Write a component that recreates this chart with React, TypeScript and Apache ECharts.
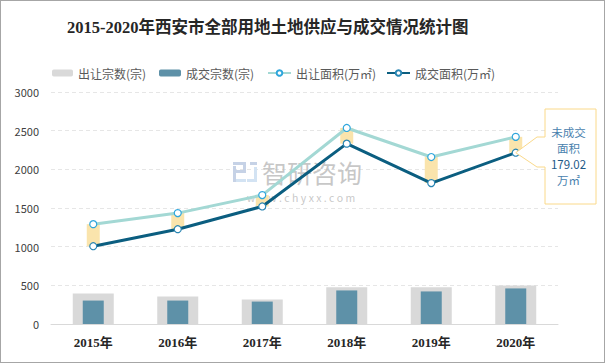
import React, { useEffect, useRef } from "react";
import * as echarts from "echarts";

const categories = ["2015年", "2016年", "2017年", "2018年", "2019年", "2020年"];
const supplyCount = [395, 355, 316, 474, 474, 497];
const dealCount = [303, 303, 290, 434, 421, 460];
const supplyArea = [1291, 1434, 1667, 2535, 2159, 2420];
const dealArea = [1006, 1226, 1520, 2332, 1822, 2215];
const yMin = 0;
const yMax = 3000;
const yInterval = 500;
const seriesNames = ["出让宗数(宗)", "成交宗数(宗)", "出让面积(万㎡)", "成交面积(万㎡)"];
const calloutLines = ["未成交", "面积", "179.02", "万㎡"];
const titleText = "2015-2020年西安市全部用地土地供应与成交情况统计图";

const SERIF = '"Liberation Serif", "DejaVu Serif", "Noto Sans CJK SC", serif';
const SANS = '"Noto Sans CJK SC", "Noto Sans", sans-serif';

export default function App() {
  const ref = useRef<HTMLDivElement>(null);
  useEffect(() => {
    if (!ref.current) return;
    const chart = echarts.init(ref.current, undefined, { renderer: "svg" });
    const gapBase = dealArea.slice();
    const gapDiff = supplyArea.map((v, i) => v - dealArea[i]);
    const hiddenX = () => ({
      type: "category",
      data: categories,
      show: false,
      gridIndex: 0,
    });
    const legendBase = {
      top: 62,
      itemHeight: 7,
      textStyle: { fontSize: 12, color: "#595959", fontFamily: SANS },
    };
    chart.setOption({
      animation: false,
      backgroundColor: "#fff",
      title: {
        text: titleText,
        left: 62,
        top: 14,
        textStyle: { fontSize: 16.5, fontWeight: "bold", color: "#262626", fontFamily: SERIF },
      },
      legend: [
        { ...legendBase, left: 47, itemWidth: 21, data: [seriesNames[0]] },
        { ...legendBase, left: 154, itemWidth: 22, data: [seriesNames[1]] },
        { ...legendBase, left: 262, itemWidth: 23, data: [seriesNames[2]] },
        { ...legendBase, left: 381, itemWidth: 23, data: [seriesNames[3]] },
      ],
      grid: { left: 51, right: 47, top: 92, bottom: 39, containLabel: false },
      xAxis: [
        {
          type: "category",
          data: categories,
          axisLine: { lineStyle: { color: "#D9D9D9", width: 1 } },
          axisTick: { show: false },
          axisLabel: { fontSize: 13, fontWeight: "bold", color: "#262626", fontFamily: SERIF, margin: 12 },
        },
        hiddenX(),
        hiddenX(),
      ],
      yAxis: {
        type: "value",
        min: yMin,
        max: yMax,
        interval: yInterval,
        axisLine: { show: false },
        axisTick: { show: false },
        axisLabel: {
          fontSize: 11,
          color: "#404040",
          fontFamily: SANS,
          margin: 12,
          formatter: (v: number) => String(v),
        },
        splitLine: { lineStyle: { color: "#E6E6E6", type: [4, 3] } },
      },
      series: [
        {
          name: seriesNames[0],
          type: "bar",
          xAxisIndex: 0,
          data: supplyCount,
          barWidth: 41,
          itemStyle: { color: "#D9D9D9" },
          z: 1,
        },
        {
          name: seriesNames[1],
          type: "bar",
          xAxisIndex: 1,
          data: dealCount,
          barWidth: 21,
          itemStyle: { color: "#5E91A8" },
          z: 2,
        },
        {
          type: "bar",
          xAxisIndex: 2,
          stack: "gap",
          data: gapBase,
          barWidth: 13,
          itemStyle: { color: "transparent" },
          silent: true,
          z: 3,
        },
        {
          type: "bar",
          xAxisIndex: 2,
          stack: "gap",
          data: gapDiff,
          barWidth: 13,
          itemStyle: { color: "#FAE4AC" },
          silent: true,
          z: 3,
        },
        {
          name: seriesNames[2],
          type: "line",
          xAxisIndex: 0,
          data: supplyArea,
          symbol: "circle",
          symbolSize: 7,
          lineStyle: { color: "#A3D8D4", width: 3 },
          itemStyle: { color: "#fff", borderColor: "#2FA6DC", borderWidth: 1.2 },
          z: 5,
        },
        {
          name: seriesNames[3],
          type: "line",
          xAxisIndex: 0,
          data: dealArea,
          symbol: "circle",
          symbolSize: 7,
          lineStyle: { color: "#0B5E80", width: 3 },
          itemStyle: { color: "#fff", borderColor: "#2B86B3", borderWidth: 1.2 },
          z: 6,
        },
      ],
    });

    const tip = chart.convertToPixel({ xAxisIndex: 0, yAxisIndex: 0 }, [5, dealArea[5]]) as number[];
    const bx = 545, by = 109, bw = 51, bh = 95;
    const cx = bx + bw / 2 - 2;
    const logoColor = "#C6D2E6";
    const logoColor2 = "#D3E3F3";
    chart.setOption({
      graphic: [
        {
          type: "group",
          silent: true,
          children: [
            { type: "rect", shape: { x: 233, y: 162, width: 13, height: 3 }, style: { fill: logoColor } },
            { type: "rect", shape: { x: 243, y: 162, width: 3, height: 11 }, style: { fill: logoColor } },
            { type: "rect", shape: { x: 236, y: 170, width: 10, height: 3 }, style: { fill: logoColor } },
            { type: "rect", shape: { x: 233, y: 166, width: 3, height: 16 }, style: { fill: logoColor } },
            { type: "rect", shape: { x: 236, y: 179, width: 10, height: 3 }, style: { fill: logoColor2 } },
            { type: "rect", shape: { x: 250, y: 162, width: 7, height: 3 }, style: { fill: logoColor } },
            { type: "rect", shape: { x: 254, y: 167, width: 3, height: 15 }, style: { fill: logoColor2 } },
            { type: "rect", shape: { x: 247, y: 179, width: 8, height: 3 }, style: { fill: logoColor2 } },
            {
              type: "text",
              x: 262,
              y: 172,
              style: { text: "智研咨询", fontSize: 25, lineHeight: 25, fill: "#BDBDBD", fontFamily: SANS, verticalAlign: "middle", opacity: 0.85 },
            },
            {
              type: "text",
              x: 301,
              y: 197,
              style: { text: "w w w . c h y x x . c o m", fontSize: 10.5, lineHeight: 11, fill: "#C2C2C2", fontFamily: SANS, align: "center", verticalAlign: "middle", opacity: 0.9 },
            },
          ],
          z: 0,
        },
        {
          type: "polygon",
          silent: true,
          z: 10,
          shape: {
            points: [
              [bx, by],
              [bx + bw, by],
              [bx + bw, by + bh],
              [bx, by + bh],
              [bx, 167],
              [537, 167],
              [tip[0], tip[1]],
              [537, 137],
              [bx, 137],
            ],
          },
          style: { fill: "#fff", stroke: "#FAD98A", lineWidth: 1 },
        },
        ...calloutLines.map((t, i) => ({
          type: "text",
          silent: true,
          z: 11,
          x: cx,
          y: [132, 148, 164, 180][i],
          style: {
            text: t,
            fontSize: 11.5,
            lineHeight: 13,
            fill: i === 2 ? "#1E5A88" : "#4A82AE",
            fontFamily: SANS,
            align: "center",
            verticalAlign: "middle",
          },
        })),
      ],
    });
    return () => chart.dispose();
  }, []);
  return (
    <div style={{ position: "fixed", left: 0, top: 0, width: 605, height: 363 }}>
      <div ref={ref} style={{ position: "absolute", left: 0, top: 0, width: 605, height: 363 }} />
      <div
        style={{
          position: "absolute",
          left: 0,
          top: 0,
          width: 605,
          height: 363,
          boxSizing: "border-box",
          border: "1px solid #A6A6A6",
          pointerEvents: "none",
        }}
      />
    </div>
  );
}
